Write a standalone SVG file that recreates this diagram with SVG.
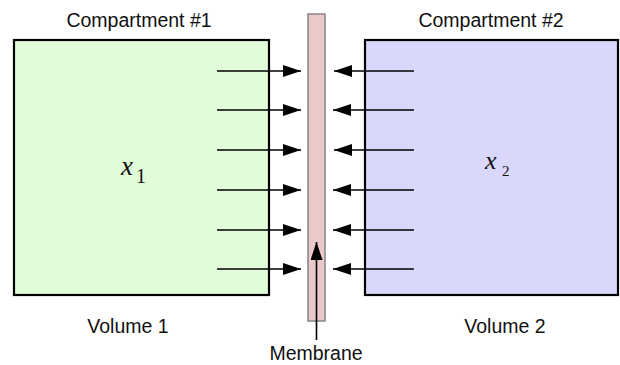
<svg xmlns="http://www.w3.org/2000/svg" width="620" height="365" viewBox="0 0 620 365">
<defs>
<style>
.box{stroke:#000;stroke-width:2.2}
.lbl{font-family:"Liberation Sans",Arial,sans-serif;font-size:19.5px;fill:#111;text-anchor:middle}
.var{font-family:"Liberation Serif","Times New Roman",serif;font-style:italic;fill:#111}
.sub{font-family:"Liberation Serif","Times New Roman",serif;fill:#111}
.arr{stroke:#000;stroke-width:1.6;fill:none;marker-end:url(#ah)}
</style>
<marker id="ah" viewBox="0 0 18 12" refX="18" refY="6" markerWidth="18" markerHeight="12" markerUnits="userSpaceOnUse" orient="auto">
<path d="M0,0 L18,6 L0,12 Z" fill="#000"/>
</marker>
</defs>
<rect width="620" height="365" fill="#fff"/>
<g id="compartment1">
<rect class="box" x="14" y="40" width="255" height="255" fill="#e1fcd9"/>
<text class="lbl" x="139" y="27">Compartment #1</text>
<text class="lbl" x="128" y="333">Volume 1</text>
<text class="var" x="121" y="175" font-size="27">x</text>
<text class="sub" x="136" y="183" font-size="20">1</text>
</g>
<g id="compartment2">
<rect class="box" x="365" y="40" width="253" height="255" fill="#d9d8fc"/>
<text class="lbl" x="491" y="27">Compartment #2</text>
<text class="lbl" x="505" y="333">Volume 2</text>
<text class="var" x="485" y="169" font-size="26">x</text>
<text class="sub" x="502" y="176" font-size="15">2</text>
</g>
<g id="membrane">
<rect x="308" y="14" width="17" height="307" fill="#ebc9c9" stroke="#858585" stroke-width="1.5"/>
<text class="lbl" x="316" y="360">Membrane</text>
</g>
<g id="connectors">
<line class="arr" x1="217" y1="71" x2="301" y2="71"/>
<line class="arr" x1="217" y1="110" x2="301" y2="110"/>
<line class="arr" x1="217" y1="150" x2="301" y2="150"/>
<line class="arr" x1="217" y1="190" x2="301" y2="190"/>
<line class="arr" x1="217" y1="230" x2="301" y2="230"/>
<line class="arr" x1="217" y1="269" x2="301" y2="269"/>
<line class="arr" x1="414" y1="71" x2="334" y2="71"/>
<line class="arr" x1="414" y1="110" x2="333" y2="110"/>
<line class="arr" x1="414" y1="150" x2="334" y2="150"/>
<line class="arr" x1="414" y1="190" x2="333" y2="190"/>
<line class="arr" x1="414" y1="230" x2="333" y2="230"/>
<line class="arr" x1="414" y1="269" x2="333" y2="269"/>
<line class="arr" x1="316.5" y1="340" x2="316.5" y2="242"/>
</g>
</svg>
